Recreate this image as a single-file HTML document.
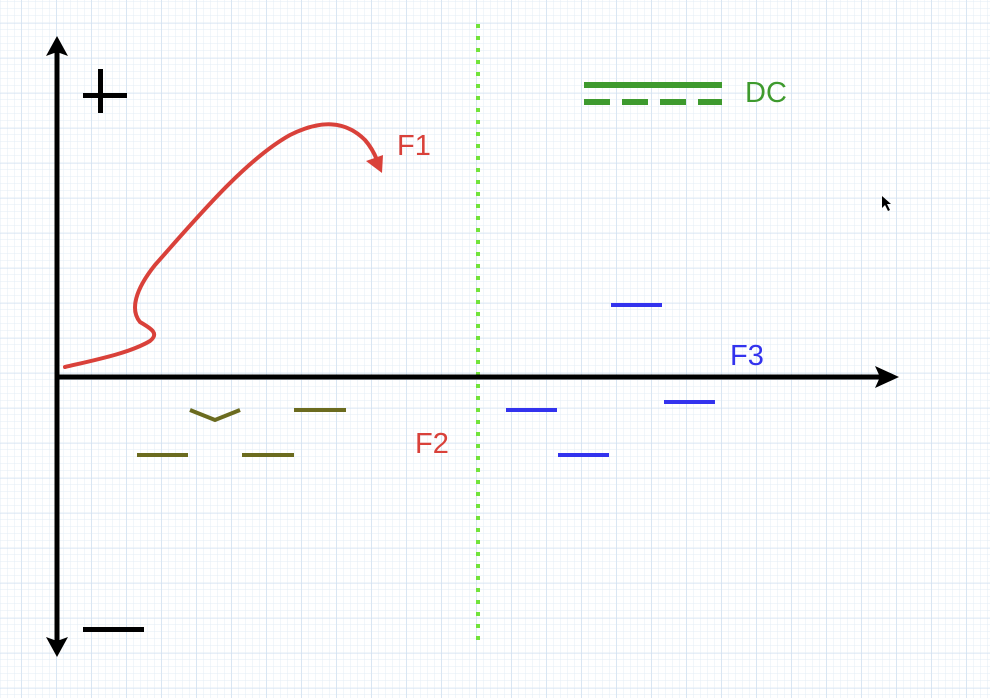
<!DOCTYPE html>
<html><head><meta charset="utf-8"><style>
html,body{margin:0;padding:0;background:#fff}
svg{display:block}
text{font-family:"Liberation Sans",sans-serif}
</style></head><body>
<svg id="c" width="990" height="698" viewBox="0 0 990 698">
<defs>
<pattern id="minor" width="7" height="7" patternUnits="userSpaceOnUse" x="0.5" y="2">
<path d="M7 0V7M0 7H7" stroke="#e3ecf6" stroke-width="1" fill="none"/></pattern>
<pattern id="major" width="35" height="35" patternUnits="userSpaceOnUse" x="21.5" y="23">
<path d="M0 0V35M0 0H35" stroke="#cfdff0" stroke-width="1" fill="none"/></pattern>
</defs>
<rect width="990" height="698" fill="url(#minor)"/>
<rect width="990" height="698" fill="url(#major)"/>
<line x1="478" y1="24" x2="478" y2="640" stroke="#72e33a" stroke-width="4" stroke-dasharray="4 8"/>
<g>
<line x1="57" y1="50" x2="57" y2="645" stroke="#000" stroke-width="5"/>
<polygon points="57,36 46,56 57,52 68,56" fill="#000"/>
<polygon points="57,657 46,637 57,641 68,637" fill="#000"/>
</g>
<g>
<line x1="55" y1="377" x2="885" y2="377" stroke="#000" stroke-width="5"/>
<polygon points="899,377 875,366 880,377 875,388" fill="#000"/>
</g>
<g><rect x="83" y="93" width="44" height="5" fill="#000"/><rect x="98" y="69" width="5" height="44" fill="#000"/></g>
<rect x="83" y="627" width="61" height="5" fill="#000"/>
<path d="M65,367 C95,360 130,353 150,341 C160,333 150,328 140,322 C130,310 135,290 155,265 C195,220 245,160 290,135 C320,120 345,120 365,140 C372,148 375,155 377,160" fill="none" stroke="#d9413a" stroke-width="4" stroke-linecap="round"/>
<polygon points="382,173 366,161 383,155" fill="#d9413a"/>
<text x="397" y="155" font-size="29" fill="#d9413a">F1</text>
<text x="415" y="453" font-size="29" fill="#d9413a">F2</text>
<text x="730" y="365" font-size="29" fill="#3333ee">F3</text>
<text x="745" y="102" font-size="29" fill="#3e9a2e">DC</text>
<line x1="584" y1="85" x2="722" y2="85" stroke="#3e9a2e" stroke-width="6"/>
<line x1="584" y1="102" x2="722" y2="102" stroke="#3e9a2e" stroke-width="6" stroke-dasharray="26 12"/>
<polyline points="190,410 215,420 240,410" fill="none" stroke="#6b6b1f" stroke-width="4"/>
<g id="marks"></g>
<polygon points="882,196 882,208 885,205 888,211 890,210 887,204 891,204" fill="#000"/>
</svg>
<script>
const oliveStart=[137,242,294];
const oliveEnd=[188,294,346];
const oliveY=[455,455,410];
const blueStart=[506,558,611,664];
const blueEnd=[557,609,662,715];
const blueY=[410,455,305,402];
const g=document.getElementById('marks');
function seg(x1,x2,y,color,name){
  const l=document.createElementNS('http://www.w3.org/2000/svg','line');
  l.setAttribute('x1',x1);l.setAttribute('x2',x2);l.setAttribute('y1',y);l.setAttribute('y2',y);
  l.setAttribute('stroke',color);l.setAttribute('stroke-width',4);
  
  
  g.appendChild(l);
}
oliveStart.forEach((s,i)=>seg(s,oliveEnd[i],oliveY[i],'#6b6b1f','f2-segment'));
blueStart.forEach((s,i)=>seg(s,blueEnd[i],blueY[i],'#3333ee','f3-segment'));
</script>
</body></html>
